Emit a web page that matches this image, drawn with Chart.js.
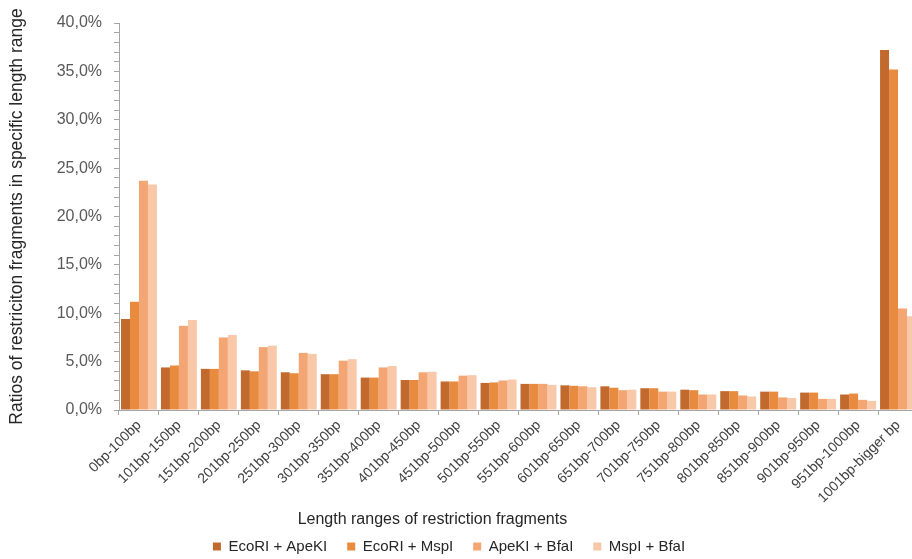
<!DOCTYPE html>
<html>
<head>
<meta charset="utf-8">
<script src="https://cdn.jsdelivr.net/npm/chart.js@4/dist/chart.umd.min.js"></script>
<style>
  html, body { margin: 0; padding: 0; background: #ffffff; overflow: hidden; }
  #wrap { width: 912px; height: 559px; overflow: hidden; }
  canvas { display: block; }
</style>
</head>
<body>
<div id="wrap"><canvas id="chart" width="920" height="559"></canvas></div>
<script>
// Fragment length bins
const categories = [
  '0bp-100bp', '101bp-150bp', '151bp-200bp', '201bp-250bp', '251bp-300bp',
  '301bp-350bp', '351bp-400bp', '401bp-450bp', '451bp-500bp', '501bp-550bp',
  '551bp-600bp', '601bp-650bp', '651bp-700bp', '701bp-750bp', '751bp-800bp',
  '801bp-850bp', '851bp-900bp', '901bp-950bp', '951bp-1000bp', '1001bp-bigger bp'
];

// Share of fragments (%) per enzyme combination
const ecoriApeki = [9.4, 4.4, 4.25, 4.1, 3.9, 3.7, 3.35, 3.1, 2.95, 2.8, 2.7, 2.55, 2.45, 2.25, 2.1, 1.95, 1.9, 1.8, 1.6, 37.2];
const ecoriMspi  = [11.2, 4.6, 4.25, 4.0, 3.8, 3.7, 3.35, 3.1, 2.95, 2.85, 2.7, 2.5, 2.3, 2.25, 2.05, 1.95, 1.9, 1.8, 1.7, 35.2];
const apekiBfai  = [23.7, 8.7, 7.5, 6.5, 5.9, 5.1, 4.4, 3.9, 3.55, 3.05, 2.7, 2.45, 2.05, 1.9, 1.6, 1.5, 1.3, 1.15, 1.05, 10.5];
const mspiBfai   = [23.3, 9.3, 7.75, 6.65, 5.8, 5.25, 4.55, 3.95, 3.6, 3.15, 2.6, 2.35, 2.1, 1.9, 1.6, 1.4, 1.25, 1.15, 0.95, 9.7];

const seriesNames = ['EcoRI + ApeKI', 'EcoRI + MspI', 'ApeKI + BfaI', 'MspI + BfaI'];

// Axis range and label steps
const yMin = 0;
const yMax = 40;
const yMinorStep = 1;
const yMajorStep = 5;

const xTitle = 'Length ranges of restriction fragments';
const yTitle = 'Ratios of restriciton fragments in specific length range';

const FONT = "'Liberation Sans', Arial, sans-serif";
const axisGrey = '#A6A6A6';

// Draws the horizontal axis caption between the tick labels and the legend
const xCaption = {
  id: 'xCaption',
  afterDraw(chart) {
    const ctx = chart.ctx;
    ctx.save();
    ctx.font = '16px ' + FONT;
    ctx.fillStyle = '#262626';
    ctx.textAlign = 'center';
    ctx.textBaseline = 'middle';
    ctx.fillText(xTitle, chart.width * 0.47, chart.chartArea.bottom + 110);
    ctx.restore();
  }
};

new Chart(document.getElementById('chart'), {
  type: 'bar',
  data: {
    labels: categories,
    datasets: [
      { label: seriesNames[0], data: ecoriApeki, backgroundColor: '#C26A2E' },
      { label: seriesNames[1], data: ecoriMspi,  backgroundColor: '#E88B3E' },
      { label: seriesNames[2], data: apekiBfai,  backgroundColor: '#F3A673' },
      { label: seriesNames[3], data: mspiBfai,   backgroundColor: '#F8C8A9' }
    ]
  },
  options: {
    responsive: false,
    animation: false,
    layout: { padding: { top: 23, left: -20, right: 2, bottom: -5 } },
    datasets: {
      bar: { categoryPercentage: 0.9, barPercentage: 1.0, borderWidth: 0 }
    },
    plugins: {
      legend: {
        position: 'bottom',
        labels: {
          boxWidth: 8,
          boxHeight: 8,
          padding: 20,
          color: '#262626',
          font: { family: FONT, size: 15 }
        }
      },
      tooltip: { enabled: false }
    },
    scales: {
      x: {
        afterFit(scale) { scale.height = 109; },
        grid: {
          display: true,
          drawOnChartArea: false,
          tickLength: 5,
          color: axisGrey
        },
        border: { color: axisGrey },
        ticks: {
          autoSkip: false,
          maxRotation: 45,
          minRotation: 45,
          padding: 2,
          color: '#404040',
          font: { family: FONT, size: 14 }
        }
      },
      y: {
        min: yMin,
        max: yMax,
        afterFit(scale) { scale.width = 139; },
        grid: {
          display: true,
          drawOnChartArea: false,
          tickLength: 5,
          color: axisGrey
        },
        border: { color: axisGrey },
        ticks: {
          stepSize: yMinorStep,
          autoSkip: false,
          padding: 12,
          color: '#595959',
          font: { family: FONT, size: 16 },
          callback(v) {
            return v % yMajorStep === 0 ? v.toFixed(1).replace('.', ',') + '%' : '';
          }
        },
        title: {
          display: true,
          text: yTitle,
          color: '#262626',
          padding: { top: 27, bottom: 0 },
          font: { family: FONT, size: 17.5 }
        }
      }
    }
  },
  plugins: [xCaption]
});
</script>
</body>
</html>
